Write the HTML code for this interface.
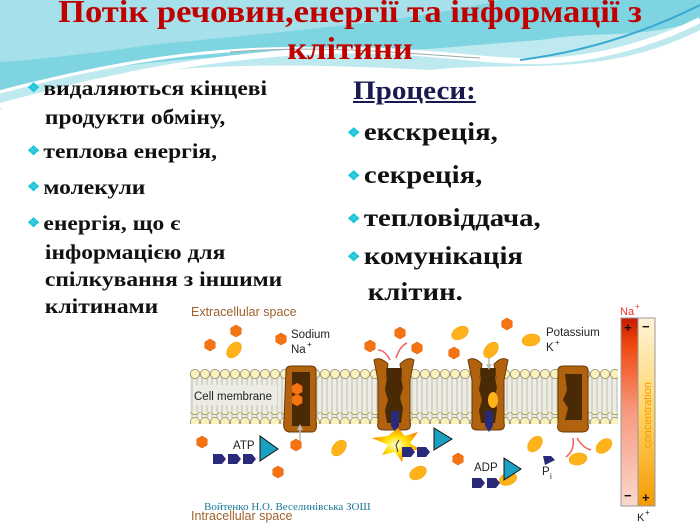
<!DOCTYPE html>
<html><head><meta charset="utf-8">
<style>
body{margin:0;width:700px;height:525px;overflow:hidden;background:#fff;position:relative;font-family:"Liberation Serif","DejaVu Serif",serif}
.t{position:absolute;color:#c00000;font-weight:bold;font-size:32px;left:0;width:700px;text-align:center;line-height:36px;transform:scaleX(1.08)}
.l{position:absolute;font-weight:bold;color:#111;white-space:nowrap;transform-origin:0 0}
.b{color:#1cc6d8;font-size:13px;margin-right:3px;position:relative;top:-3px}
</style></head><body>
<svg width="700" height="525" style="position:absolute;left:0;top:0">
<defs>
<linearGradient id="na" x1="0" y1="0" x2="0" y2="1"><stop offset="0" stop-color="#c81a00"/><stop offset="0.15" stop-color="#f04a10"/><stop offset="0.5" stop-color="#f89a80"/><stop offset="1" stop-color="#fbd8cc"/></linearGradient>
<linearGradient id="kk" x1="0" y1="0" x2="0" y2="1"><stop offset="0" stop-color="#fff4d8"/><stop offset="0.5" stop-color="#ffd466"/><stop offset="1" stop-color="#f59a00"/></linearGradient>
<radialGradient id="bang"><stop offset="0" stop-color="#fffbe0"/><stop offset="0.5" stop-color="#ffe000"/><stop offset="1" stop-color="#ff8a00"/></radialGradient>
<pattern id="hd" width="10" height="12" patternUnits="userSpaceOnUse" x="190" y="368"><circle cx="5" cy="6" r="4.6" fill="#fbf1bd" stroke="#8a8560" stroke-width="0.8"/></pattern>
<pattern id="tl" width="5" height="30" patternUnits="userSpaceOnUse" x="190"><line x1="2" y1="0" x2="2" y2="30" stroke="#b8b49c" stroke-width="0.8"/></pattern>
<polygon id="hx" points="0,-6 5.2,-3 5.2,3 0,6 -5.2,3 -5.2,-3" fill="#f57412" stroke="#e05000" stroke-width="0.5"/>
<ellipse id="ov" rx="9" ry="6" fill="#ffb21a" stroke="#f0a000" stroke-width="0.5"/>
<g id="pump"><path d="M-20,-38 Q-14,-42 -6,-34 L-8,-20 L8,-20 L6,-34 Q14,-42 20,-38 L16,-18 L16,25 Q18,32 10,32 L-10,32 Q-18,32 -16,25 L-16,-18 Z" fill="#b0620f" stroke="#6a3a08" stroke-width="1"/><path d="M-8,-30 L8,-30 L7,-20 L9,-10 L6,0 L9,10 L7,25 L-7,25 L-9,12 L-6,2 L-9,-8 L-7,-20 Z" fill="#4a2a05"/></g>
</defs>
<path d="M0,0 L700,0 L700,30 C600,80 520,60 430,70 C330,65 200,60 90,80 C50,90 20,100 0,110 Z" fill="#bde9ef"/>
<path d="M0,0 L700,0 L700,20 C640,40 600,30 540,40 C470,45 430,50 370,52 C260,55 130,55 0,90 Z" fill="#7fd4e2"/>
<path d="M0,0 L500,0 C420,20 300,30 150,45 C80,55 30,60 0,62 Z" fill="#a6e0ea"/>
<path d="M0,92 C120,60 240,40 370,52" stroke="#fff" stroke-width="3" fill="none"/>
<path d="M0,106 C100,80 180,60 300,52 C420,44 480,66 560,60 C620,55 670,35 700,20" stroke="#fff" stroke-width="6" fill="none"/>
<path d="M520,60 C600,50 660,25 700,5" stroke="#3aa8d0" stroke-width="2" fill="none"/>
<path d="M230,52 C330,44 420,55 480,58" stroke="#9aa" stroke-width="1" fill="none"/>
<g font-family="Liberation Sans,sans-serif">
<text x="191" y="316" font-size="12.5" fill="#a0622a">Extracellular space</text>
<text x="191" y="520" font-size="12.5" fill="#a0622a">Intracellular space</text>
<rect x="190" y="374" width="428" height="44" fill="#ecebe4"/>
<rect x="190" y="374" width="428" height="44" fill="url(#tl)"/>
<rect x="190" y="368" width="428" height="12" fill="url(#hd)"/>
<rect x="190" y="412" width="428" height="12" fill="url(#hd)"/>
<rect x="193" y="385" width="84" height="20" fill="#ecebe4"/>
<text x="194" y="400" font-size="11.5" fill="#222">Cell membrane</text>
<path d="M286,370 Q286,366 292,366 L310,366 Q316,366 316,370 L316,420 Q318,432 312,432 L290,432 Q282,432 284,420 Z" fill="#b0620f" stroke="#6a3a08"/>
<path d="M292,372 L310,372 L310,426 L292,426 Z" fill="#4a2a05"/>
<use href="#hx" x="297" y="389"/><use href="#hx" x="297" y="400"/>
<line x1="300" y1="443" x2="300" y2="428" stroke="#bbb" stroke-width="1.5"/>
<polygon points="300,424 297,430 303,430" fill="#bbb"/>
<use href="#pump" x="394" y="398"/>
<use href="#pump" x="488" y="398"/>
<path d="M391,411 L399,411 L399,426 L395,432 L391,426 Z" fill="#2a2a7a"/>
<path d="M485,411 L493,411 L493,426 L489,432 L485,426 Z" fill="#2a2a7a"/>
<ellipse cx="493" cy="400" rx="5" ry="8" fill="#ffb21a"/>
<path d="M558,370 Q558,366 564,366 L582,366 Q588,366 588,370 L588,424 Q590,432 582,432 L564,432 Q556,432 558,424 Z" fill="#b0620f" stroke="#6a3a08"/>
<path d="M565,374 L582,374 L582,420 L565,420 L568,408 L563,400 L567,390 Z" fill="#4a2a05"/>
<polygon points="398,428 405,436 418,432 410,443 420,450 405,450 402,462 395,452 382,455 388,445 372,438 388,436" fill="url(#bang)"/>
<path d="M398,452 L396,445 L399,440" stroke="#333" fill="none"/>
<g stroke="#f06060" stroke-width="1.5" fill="none"><path d="M390,360 Q385,350 378,350"/><path d="M396,358 Q400,346 407,343"/><path d="M573,438 Q575,450 566,457"/><path d="M577,438 Q583,448 591,450"/></g>
<line x1="489" y1="350" x2="489" y2="366" stroke="#bbb" stroke-width="1.5"/>
<polygon points="489,370 486,364 492,364" fill="#bbb"/>
<use href="#hx" x="210" y="345"/><use href="#hx" x="236" y="331"/><use href="#hx" x="281" y="339"/><use href="#hx" x="370" y="346"/><use href="#hx" x="400" y="333"/><use href="#hx" x="417" y="348"/><use href="#hx" x="454" y="353"/><use href="#hx" x="507" y="324"/>
<use href="#hx" x="202" y="442"/><use href="#hx" x="296" y="445"/><use href="#hx" x="278" y="472"/><use href="#hx" x="458" y="459"/>
<use href="#ov" transform="translate(234,350) rotate(-50)"/><use href="#ov" transform="translate(460,333) rotate(-30)"/><use href="#ov" transform="translate(531,340) rotate(-10)"/><use href="#ov" transform="translate(491,350) rotate(-50)"/>
<use href="#ov" transform="translate(339,448) rotate(-50)"/><use href="#ov" transform="translate(418,473) rotate(-30)"/><use href="#ov" transform="translate(508,479) rotate(-20)"/><use href="#ov" transform="translate(535,444) rotate(-50)"/><use href="#ov" transform="translate(578,459) rotate(-10)"/><use href="#ov" transform="translate(604,446) rotate(-40)"/>
<text x="233" y="449" font-size="11.5" fill="#222">ATP</text>
<g fill="#2a2a7a"><path d="M213,454 L222,454 L226,459 L222,464 L213,464 Z"/><path d="M228,454 L237,454 L241,459 L237,464 L228,464 Z"/><path d="M243,454 L252,454 L256,459 L252,464 L243,464 Z"/>
<path d="M402,447 L411,447 L415,452 L411,457 L402,457 Z"/><path d="M417,447 L426,447 L430,452 L426,457 L417,457 Z"/>
<path d="M472,478 L481,478 L485,483 L481,488 L472,488 Z"/><path d="M487,478 L496,478 L500,483 L496,488 L487,488 Z"/>
<path d="M543,456 L551,456 L555,460 L545,465 Z"/></g>
<g fill="#1aa0c0" stroke="#111" stroke-width="1"><polygon points="260,436 260,461 278,449"/><polygon points="434,428 434,450 452,439"/><polygon points="504,458 504,480 521,469"/></g>
<text x="474" y="471" font-size="11.5" fill="#222">ADP</text>
<text x="542" y="475" font-size="11.5" fill="#222">P</text><text x="550" y="479" font-size="8" fill="#222">i</text>
<text x="291" y="338" font-size="11.5" fill="#222">Sodium</text><text x="291" y="353" font-size="11.5" fill="#222">Na</text><text x="307" y="347" font-size="8" fill="#222">+</text>
<text x="546" y="336" font-size="11.5" fill="#222">Potassium</text><text x="546" y="351" font-size="11.5" fill="#222">K</text><text x="555" y="345" font-size="8" fill="#222">+</text>
<rect x="621" y="318" width="17" height="188" fill="url(#na)" stroke="#999"/>
<rect x="638" y="318" width="17" height="188" fill="url(#kk)" stroke="#999"/>
<text x="620" y="315" font-size="11" fill="#e33">Na</text><text x="635" y="309" font-size="8" fill="#e33">+</text>
<text x="637" y="521" font-size="11" fill="#222">K</text><text x="645" y="515" font-size="8" fill="#222">+</text>
<text x="624" y="332" font-size="13" font-weight="bold" fill="#111">+</text><text x="642" y="331" font-size="13" font-weight="bold" fill="#111">−</text>
<text x="624" y="500" font-size="13" font-weight="bold" fill="#111">−</text><text x="642" y="502" font-size="13" font-weight="bold" fill="#111">+</text>
<text transform="translate(651,448) rotate(-90)" font-size="11" fill="#f59a00">concentration</text>
</g>
</svg>
<div class="t" style="top:-7px">Потік речовин,енергії та інформації з</div>
<div class="t" style="top:30px">клітини</div>
<div class="l" style="left:27px;top:75px;font-size:21px;line-height:27px;transform:scaleX(1.12)">
<div><span class="b">❖</span>видаляються кінцеві</div>
<div style="padding-left:16px">продукти обміну,</div>
<div style="margin-top:7px"><span class="b">❖</span>теплова енергія,</div>
<div style="margin-top:7px"><span class="b">❖</span>молекули</div>
<div style="margin-top:7px"><span class="b">❖</span>енергія, що є</div>
<div style="padding-left:16px">інформацією для</div>
<div style="padding-left:16px">спілкування з іншими</div>
<div style="padding-left:16px">клітинами</div>
</div>
<div class="l" style="left:353px;top:76px;font-size:26px;text-decoration:underline;color:#1a1a50;transform:scaleX(1.12)">Процеси:</div>
<div class="l" style="left:347px;top:114px;font-size:25px;line-height:37px;transform:scaleX(1.15)">
<div><span class="b">❖</span>екскреція,</div>
<div style="margin-top:3px"><span class="b">❖</span>секреція,</div>
<div style="margin-top:3px"><span class="b">❖</span>тепловіддача,</div>
<div style="line-height:33px"><span class="b">❖</span>комунікація</div>
<div style="padding-left:18px;line-height:33px">клітин.</div>
</div>
<div style="position:absolute;left:204px;top:501px;font-size:11px;color:#1a7a9a">Войтенко Н.О. Веселинівська ЗОШ</div>
</body></html>
